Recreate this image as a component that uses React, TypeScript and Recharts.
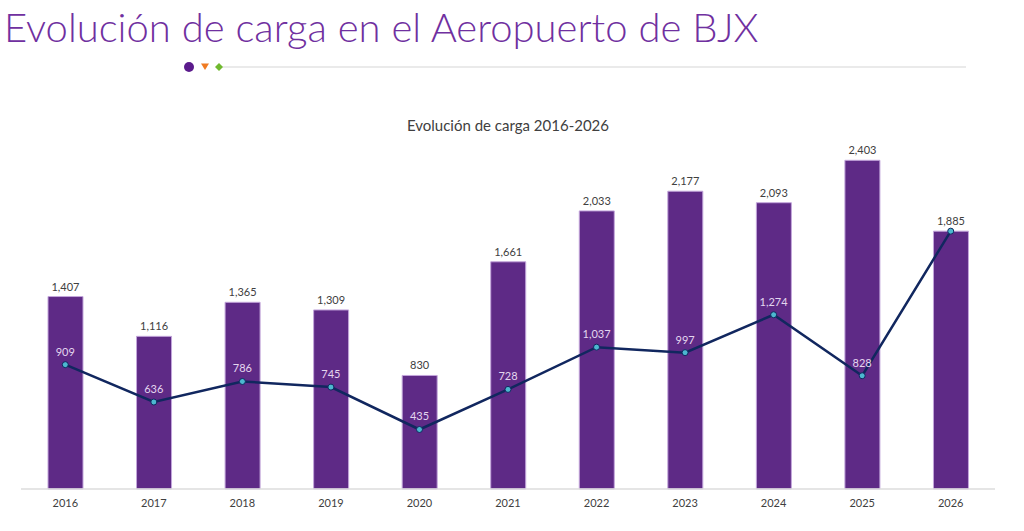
import React from "react";
import { ComposedChart, Bar, Line, XAxis, YAxis, LabelList } from "recharts";

const years = ["2016", "2017", "2018", "2019", "2020", "2021", "2022", "2023", "2024", "2025", "2026"];
const barValues = [1407, 1116, 1365, 1309, 830, 1661, 2033, 2177, 2093, 2403, 1885];
const lineValues = [909, 636, 786, 745, 435, 728, 1037, 997, 1274, 828, 1885];

const data = years.map((y, i) => ({ year: y, bar: barValues[i], line: lineValues[i] }));

const fmt = (v: number) => v.toLocaleString("en-US");

const LineLabel = (props: any) => {
  const { x, y, value, index } = props;
  if (value === barValues[index]) return null;
  return (
    <text x={x} y={y - 9} textAnchor="middle" fill="#e4d6ef" fontSize={11} fontFamily="Lato, sans-serif">
      {fmt(value)}
    </text>
  );
};

export default function App() {
  return (
    <div style={{ position: "absolute", left: 0, top: 0, width: 1024, height: 531, background: "#fff", fontFamily: "Lato, sans-serif" }}>
      <div style={{ position: "absolute", left: 4, top: 3, fontSize: 40, fontWeight: 300, color: "#7030a0", whiteSpace: "nowrap", letterSpacing: 0 }}>
        Evolución de carga en el Aeropuerto de BJX
      </div>
      <svg style={{ position: "absolute", left: 0, top: 0 }} width={1024} height={80}>
        <line x1={222} y1={67} x2={966} y2={67} stroke="#e3e3e3" strokeWidth={1.5} />
        <circle cx={189} cy={67} r={5} fill="#5b1b8c" />
        <polygon points="201,63.5 209,63.5 205,70" fill="#f07b22" />
        <polygon points="219,63 223,67 219,71 215,67" fill="#70b92f" />
      </svg>
      <div style={{ position: "absolute", left: 0, width: 1016, top: 116, textAlign: "center", fontSize: 15, color: "#404040" }}>
        Evolución de carga 2016-2026
      </div>
      <div style={{ position: "absolute", left: 0, top: 0 }}>
        <ComposedChart width={1024} height={531} data={data} margin={{ top: 106, right: 29, left: 21, bottom: 12 }} barCategoryGap="20%">
          <XAxis
            dataKey="year"
            axisLine={{ stroke: "#dcdcdc", strokeWidth: 1.5 }}
            tickLine={false}
            tickSize={0}
            tickMargin={10}
            height={30}
            tick={{ fill: "#404040", fontSize: 11, fontFamily: "Lato, sans-serif" }}
            interval={0}
          />
          <YAxis hide domain={[0, 2800]} />
          <Bar dataKey="bar" fill="#5e2a86" stroke="#c3a6db" strokeWidth={1} barSize={35} isAnimationActive={false}>
            <LabelList dataKey="bar" position="top" offset={6} fill="#404040" fontSize={11} fontFamily="Lato, sans-serif" formatter={(v: any) => fmt(v)} />
          </Bar>
          <Line
            dataKey="line"
            stroke="#11275f"
            strokeWidth={2.5}
            dot={{ r: 3, fill: "#4cb8d0", stroke: "#11275f", strokeWidth: 1 }}
            isAnimationActive={false}
          >
            <LabelList dataKey="line" content={LineLabel} />
          </Line>
        </ComposedChart>
      </div>
    </div>
  );
}
